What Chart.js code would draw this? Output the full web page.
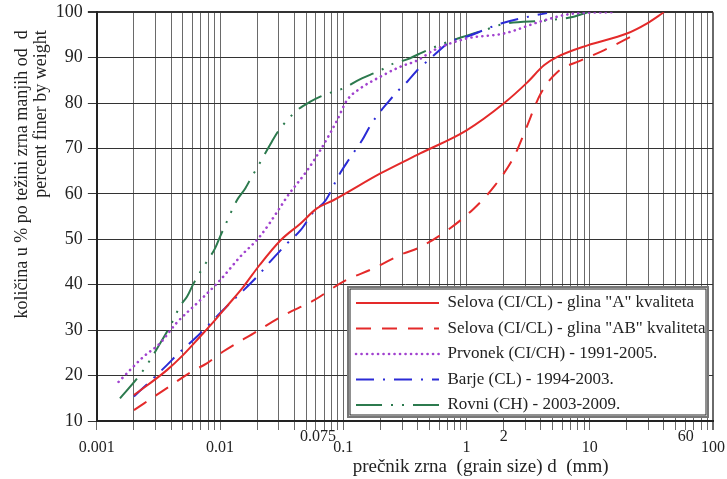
<!DOCTYPE html>
<html>
<head>
<meta charset="utf-8">
<script src="https://cdn.jsdelivr.net/npm/chart.js@4.4.0/dist/chart.umd.min.js"></script>
<style>
  html, body { margin: 0; padding: 0; background: #fff; }
  #wrap { width: 727px; height: 479px; }
</style>
</head>
<body>
<div id="wrap"><canvas id="gsdChart"></canvas></div>
<script>
// grain size (mm) / percent finer
const seriesNames = [
  'Selova (CI/CL) - glina "A" kvaliteta',
  'Selova (CI/CL) - glina "AB" kvaliteta',
  'Prvonek (CI/CH) - 1991-2005.',
  'Barje (CL) - 1994-2003.',
  'Rovni (CH) - 2003-2009.'
];

const selovaA_d = [0.002, 0.0037, 0.005, 0.0069, 0.0091, 0.0113, 0.0155, 0.021, 0.031, 0.045, 0.061, 0.083, 0.2, 0.42, 1.0, 2.0, 3.1, 4.25, 5.5, 9.6, 20, 29, 40];
const selovaA_p = [15.7, 21.2, 24.5, 28.6, 32.2, 35.2, 39.6, 44.4, 49.8, 53.5, 56.8, 58.6, 64.5, 68.9, 74.0, 79.9, 84.5, 88.3, 90.2, 92.7, 95.3, 97.5, 100];

const selovaAB_d = [0.002, 0.0035, 0.0059, 0.0078, 0.0106, 0.0187, 0.033, 0.058, 0.1, 0.176, 0.31, 0.4, 0.7, 1.15, 1.67, 2.43, 3.0, 4.0, 5.5, 8.5, 13, 21.5];
const selovaAB_p = [12.4, 16.8, 20.9, 22.7, 25.3, 29.3, 33.3, 36.6, 40.7, 43.6, 46.9, 48.0, 52.0, 56.8, 61.6, 68.2, 74.0, 82.1, 86.9, 89.4, 91.6, 94.6];

const prvonek_d = [0.0015, 0.0024, 0.00325, 0.0044, 0.0069, 0.01, 0.0146, 0.021, 0.031, 0.035, 0.051, 0.065, 0.078, 0.089, 0.107, 0.137, 0.2, 0.29, 0.4, 0.54, 1.0, 2.0, 4.25, 7.4, 16];
const prvonek_p = [18.6, 24.2, 27.1, 31.5, 36.6, 41.0, 46.2, 50.6, 57.2, 59.4, 65.2, 69.6, 73.3, 76.2, 80.6, 83.2, 85.8, 88.0, 89.4, 91.6, 94.2, 95.3, 98.2, 99.7, 100];

const barje_d = [0.002, 0.0026, 0.0037, 0.0046, 0.0065, 0.0083, 0.0113, 0.0146, 0.02, 0.0255, 0.035, 0.045, 0.0575, 0.072, 0.092, 0.11, 0.125, 0.142, 0.166, 0.194, 0.226, 0.28, 0.33, 0.41, 0.49, 0.74, 1.0, 1.9, 3.3, 4.5];
const barje_p = [15.4, 18.3, 22.3, 24.9, 28.6, 31.5, 35.2, 38.1, 41.8, 45.1, 49.1, 52.0, 56.1, 58.6, 64.1, 67.4, 69.6, 71.8, 75.1, 77.7, 79.9, 82.8, 84.7, 87.6, 89.4, 93.5, 94.6, 97.5, 99.1, 99.8];

const rovni_d = [0.00154, 0.00217, 0.00254, 0.00315, 0.00417, 0.0047, 0.0054, 0.0061, 0.0078, 0.0091, 0.01, 0.011, 0.0137, 0.016, 0.0181, 0.0205, 0.0263, 0.03, 0.035, 0.042, 0.054, 0.065, 0.083, 0.104, 0.129, 0.2, 0.256, 0.33, 0.41, 0.65, 1.38, 2.0, 4.5, 7.4, 9.6];
const rovni_p = [15.0, 19.7, 22.3, 26.4, 32.2, 35.2, 37.4, 40.3, 45.1, 48.0, 50.6, 53.1, 58.6, 61.2, 63.8, 66.3, 71.5, 74.0, 76.2, 78.4, 80.3, 81.4, 82.5, 83.4, 84.9, 87.2, 88.7, 89.6, 90.8, 93.1, 96.0, 97.4, 98.2, 99.0, 100];

const xTickValues = [0.001, 0.01, 0.075, 0.1, 1, 2, 10, 60, 100];
const xTickLabels = ['0.001', '0.01', '0.075', '0.1', '1', '2', '10', '60', '100'];
const xRaisedTicks = [0.075, 2, 60];

const FONT = 'Liberation Serif, Times New Roman, serif';
const near = (a, b) => Math.abs(Math.log10(a) - Math.log10(b)) < 1e-6;
const toPoints = (d, p) => d.map((x, i) => ({ x: x, y: p[i] }));

// log grid: 1..9 in every decade
const xGrid = [];
for (let e = -3; e < 2; e++) {
  for (let m = 1; m < 10; m++) xGrid.push(+(m * Math.pow(10, e)).toPrecision(3));
}
xGrid.push(100);
const xAllTicks = xGrid.concat([0.075]).sort((a, b) => a - b);

const lineBase = { pointRadius: 0, fill: false, cubicInterpolationMode: 'monotone', borderWidth: 2 };

// legend sits in a white framed box in the lower right of the plot
const legendBox = {
  id: 'legendBox',
  afterLayout(chart) {
    const lg = chart.legend;
    const ca = chart.chartArea;
    lg.left = ca.right - 365.5;
    lg.right = ca.right - 4;
    lg.top = ca.bottom - 135;
    lg.bottom = ca.bottom + 40;
    lg.width = lg.right - lg.left;
    lg.height = lg.bottom - lg.top;
    if (!lg._boxWrapped) {
      const origDraw = lg.draw;
      lg.draw = function () {
        const c = chart.ctx;
        const a = chart.chartArea;
        const bx = a.right - 365, by = a.bottom - 134, bw = 360, bh = 130;
        c.save();
        c.fillStyle = '#fff';
        c.fillRect(bx, by, bw, bh);
        c.strokeStyle = '#777';
        c.lineWidth = 2;
        c.strokeRect(bx, by, bw, bh);
        c.strokeStyle = '#222';
        c.lineWidth = 1;
        c.strokeRect(bx + 2, by + 2, bw - 4, bh - 4);
        c.restore();
        origDraw.apply(lg, arguments);
      };
      lg._boxWrapped = true;
    }
  }
};

document.addEventListener('DOMContentLoaded', () => {
  const ctx = document.getElementById('gsdChart').getContext('2d');
  new Chart(ctx, {
    type: 'line',
    data: {
      datasets: [
        Object.assign({}, lineBase, {
          label: seriesNames[0], data: toPoints(selovaA_d, selovaA_p),
          borderColor: '#e42a2a', backgroundColor: '#e42a2a'
        }),
        Object.assign({}, lineBase, {
          label: seriesNames[1], data: toPoints(selovaAB_d, selovaAB_p),
          borderColor: '#e42a2a', backgroundColor: '#e42a2a', borderDash: [15, 11]
        }),
        Object.assign({}, lineBase, {
          label: seriesNames[2], data: toPoints(prvonek_d, prvonek_p),
          borderColor: '#a142cf', backgroundColor: '#a142cf', borderWidth: 2.6,
          borderDash: [0.1, 5.4], borderCapStyle: 'round'
        }),
        Object.assign({}, lineBase, {
          label: seriesNames[3], data: toPoints(barje_d, barje_p),
          borderColor: '#2b2bd6', backgroundColor: '#2b2bd6', borderDash: [18, 9, 2, 9]
        }),
        Object.assign({}, lineBase, {
          label: seriesNames[4], data: toPoints(rovni_d, rovni_p),
          borderColor: '#2c7a4e', backgroundColor: '#2c7a4e', borderDash: [26, 9, 2, 9, 2, 9]
        })
      ]
    },
    options: {
      maintainAspectRatio: false,
      animation: false,
      events: [],
      layout: { padding: { left: 6, top: 12, right: 14, bottom: 0 } },
      plugins: {
        tooltip: { enabled: false },
        legend: {
          position: 'chartArea',
          align: 'start',
          labels: {
            usePointStyle: true,
            pointStyle: 'line',
            pointStyleWidth: 83,
            padding: 8.5,
            color: '#222',
            font: { family: FONT, size: 17 },
            // point-style items lose the dash, so copy it from the dataset
            generateLabels: (chart) => Chart.defaults.plugins.legend.labels.generateLabels(chart).map(item => {
              const ds = chart.data.datasets[item.datasetIndex];
              item.lineDash = ds.borderDash || [];
              item.lineCap = ds.borderCapStyle || 'butt';
              item.lineWidth = ds.borderWidth;
              item.strokeStyle = ds.borderColor;
              return item;
            })
          }
        }
      },
      scales: {
        x: {
          type: 'logarithmic',
          min: 0.001,
          max: 100,
          afterBuildTicks: (scale) => {
            scale.ticks = xAllTicks.map(v => ({ value: v }));
          },
          border: { color: '#222', width: 2 },
          grid: {
            color: (c) => (c.tick && near(c.tick.value, 0.075)) ? 'rgba(0,0,0,0)' : '#6a6a6a',
            lineWidth: (c) => (c.tick && c.tick.value > 99) ? 2 : 1,
            tickLength: 9
          },
          ticks: {
            autoSkip: false,
            maxRotation: 0,
            minRotation: 0,
            padding: 2,
            color: '#222',
            font: { family: FONT, size: 16, lineHeight: 0.65 },
            callback: (v) => {
              const i = xTickValues.findIndex(t => near(t, v));
              if (i < 0) return '';
              if (xRaisedTicks.some(t => near(t, v))) {
                const shift = near(v, 0.075) ? 5 : 0;
                return [xTickLabels[i] + ' '.repeat(shift), ''];
              }
              return ['', xTickLabels[i]];
            }
          },
          title: {
            display: true,
            text: 'prečnik zrna  (grain size) d  (mm)' + ' '.repeat(22),
            align: 'end',
            color: '#222',
            font: { family: FONT, size: 19, lineHeight: 1.1 },
            padding: { top: 1.3, bottom: 2 }
          }
        },
        y: {
          type: 'linear',
          min: 10,
          max: 100,
          border: { color: '#222', width: 2 },
          grid: {
            color: '#333',
            lineWidth: (c) => (c.tick && c.tick.value >= 100) ? 2 : 1,
            tickLength: 9
          },
          ticks: {
            stepSize: 10,
            padding: 5,
            color: '#222',
            font: { family: FONT, size: 18, lineHeight: 0.8 }
          },
          title: {
            display: true,
            text: ['količina u % po težini zrna manjih od  d    ', 'percent finer by weight    '],
            align: 'end',
            color: '#222',
            font: { family: FONT, size: 18, lineHeight: 1.06 },
            padding: { top: 6.4, bottom: 0.3 }
          }
        }
      }
    },
    plugins: [legendBox]
  });
});
</script>
</body>
</html>
